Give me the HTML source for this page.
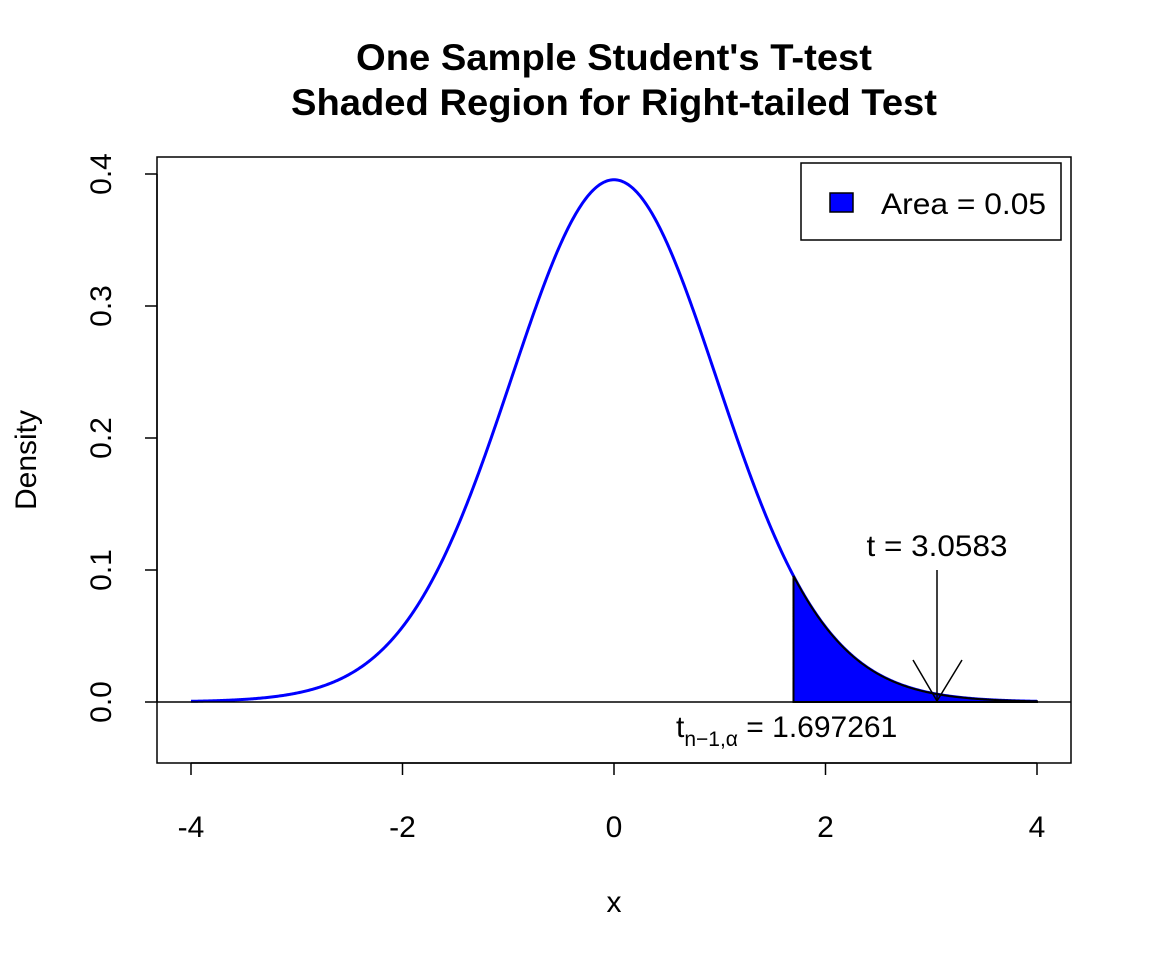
<!DOCTYPE html>
<html><head><meta charset="utf-8"><style>
html,body{margin:0;padding:0;background:#fff;}
svg{display:block;font-family:"Liberation Sans",Arial,sans-serif;}
</style></head><body>
<svg id="s" width="1152" height="960" viewBox="0 0 1152 960" xmlns="http://www.w3.org/2000/svg">
<rect width="1152" height="960" fill="#fff"/>
<text x="614" y="70" font-size="37" font-weight="bold" text-anchor="middle" textLength="516" lengthAdjust="spacingAndGlyphs">One Sample Student's T-test</text>
<text x="614" y="115" font-size="37" font-weight="bold" text-anchor="middle" textLength="646" lengthAdjust="spacingAndGlyphs">Shaded Region for Right-tailed Test</text>
<rect x="157" y="157" width="914" height="606" fill="none" stroke="#000" stroke-width="1.5"/>
<g stroke="#000" stroke-width="1.5">
<line x1="191" y1="763" x2="1037" y2="763"/>
<line x1="191" y1="763" x2="191" y2="775"/><line x1="402.5" y1="763" x2="402.5" y2="775"/><line x1="614" y1="763" x2="614" y2="775"/><line x1="825.5" y1="763" x2="825.5" y2="775"/><line x1="1037" y1="763" x2="1037" y2="775"/>
<line x1="157" y1="174" x2="157" y2="702"/>
<line x1="145" y1="702" x2="157" y2="702"/><line x1="145" y1="570" x2="157" y2="570"/><line x1="145" y1="438" x2="157" y2="438"/><line x1="145" y1="306" x2="157" y2="306"/><line x1="145" y1="174" x2="157" y2="174"/>
</g>
<g font-size="30" text-anchor="middle">
<text x="191" y="837">-4</text><text x="402.5" y="837">-2</text><text x="614" y="837">0</text><text x="825.5" y="837">2</text><text x="1037" y="837">4</text>
<text x="614" y="912">x</text>
<text transform="translate(111,702) rotate(-90)">0.0</text>
<text transform="translate(111,570) rotate(-90)">0.1</text>
<text transform="translate(111,438) rotate(-90)">0.2</text>
<text transform="translate(111,306) rotate(-90)">0.3</text>
<text transform="translate(111,174) rotate(-90)">0.4</text>
<text transform="translate(36,460) rotate(-90)">Density</text>
</g>
<path id="curve" fill="none" stroke="#0000ff" stroke-width="3"/>
<path id="shade" fill="#0000ff" stroke="#000" stroke-width="2"/>
<line x1="157" y1="702" x2="1071" y2="702" stroke="#000" stroke-width="1.5"/>
<g stroke="#000" stroke-width="1.5">
<line x1="937" y1="570" x2="937" y2="702"/>
<line x1="913" y1="660" x2="937" y2="701"/>
<line x1="962" y1="660" x2="937" y2="701"/>
</g>
<text x="937" y="556" font-size="30" text-anchor="middle" textLength="141" lengthAdjust="spacingAndGlyphs">t = 3.0583</text>
<text x="676" y="737" font-size="30">t<tspan font-size="21" dy="9">n−1,α</tspan><tspan dy="-9"> = 1.697261</tspan></text>
<rect x="801" y="163" width="260" height="77" fill="#fff" stroke="#000" stroke-width="1.5"/>
<rect x="830" y="193" width="23" height="19" fill="#0000ff" stroke="#000" stroke-width="1.5"/>
<text x="881" y="214" font-size="30" textLength="165" lengthAdjust="spacingAndGlyphs">Area = 0.05</text>
<script>
(function(){
var c=0.39563;function f(x){return c*Math.pow(1+x*x/30,-15.5);}
function X(x){return 614+x*105.75;}function Y(y){return 702-y*1320;}
var d="";for(var i=0;i<=800;i++){var x=-4+i*0.01;d+=(i?"L":"M")+X(x).toFixed(2)+","+Y(f(x)).toFixed(2);}
document.getElementById("curve").setAttribute("d",d);
var a=1.697261,s="M"+X(a).toFixed(2)+",702";
for(var j=0;j<=200;j++){var x2=a+(4-a)*j/200;s+="L"+X(x2).toFixed(2)+","+Y(f(x2)).toFixed(2);}
s+="L"+X(4)+",702Z";document.getElementById("shade").setAttribute("d",s);
})();
</script>
</svg>
</body></html>
